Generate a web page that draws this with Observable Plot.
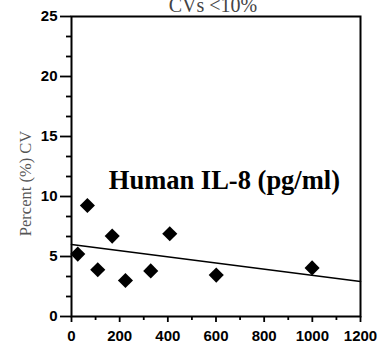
<!DOCTYPE html>
<html>
<head>
<meta charset="utf-8">
<script src="https://cdn.jsdelivr.net/npm/d3@7"></script>
<script src="https://cdn.jsdelivr.net/npm/@observablehq/plot@0.6"></script>
<style>
  html, body { margin: 0; padding: 0; background: #fff; }
  #chart svg { display: block; }
</style>
</head>
<body>
<div id="chart"></div>
<script>
// Data
const concentration = [26, 66, 109, 169, 224, 329, 408, 601, 999]; // pg/ml
const percentCV     = [5.2, 9.25, 3.9, 6.7, 3.0, 3.8, 6.9, 3.45, 4.05];
const trendX = [0, 1200];
const trendY = [6.0, 2.92];
const xMajorTicks = [0, 200, 400, 600, 800, 1000, 1200];
const xMinorTicks = [100, 300, 500, 700, 900, 1100];
const yMajorTicks = [0, 5, 10, 15, 20, 25];
const yMinorTicks = [5/3, 10/3, 20/3, 25/3, 35/3, 40/3, 50/3, 55/3, 65/3, 70/3];
const titleText = "CVs <10%";
const yLabel = "Percent (%) CV";
const annotation = { text: "Human IL-8 (pg/ml)", x: 155, y: 11.3 };

const points = concentration.map((c, i) => ({ x: c, y: percentCV[i] }));
const trend = trendX.map((x, i) => ({ x, y: trendY[i] }));

const tickFont = { fontFamily: "Liberation Sans, Arial, sans-serif", fontWeight: "bold", fontSize: 15 };

const chart = Plot.plot({
  width: 380,
  height: 343,
  marginLeft: 71,
  marginRight: 20,
  marginTop: 16,
  marginBottom: 27,
  style: { background: "#fff", overflow: "visible" },
  x: { domain: [0, 1200] },
  y: { domain: [0, 25] },
  marks: [
    Plot.frame({ stroke: "#000", strokeWidth: 2 }),
    Plot.axisX({ ticks: xMajorTicks, tickSize: 6, tickPadding: 8, strokeWidth: 1.8, label: null, tickFormat: d => String(d), ...tickFont, fill: "#000", letterSpacing: "-0.8px" }),
    Plot.axisX({ ticks: xMinorTicks, tickSize: 4, text: null, strokeWidth: 1.8, label: null }),
    Plot.axisY({ ticks: yMajorTicks, tickSize: 11, tickPadding: 3, strokeWidth: 1.8, label: null, tickFormat: d => String(d), ...tickFont, fill: "#000", letterSpacing: "-0.8px" }),
    Plot.axisY({ ticks: yMinorTicks, tickSize: 5, text: null, strokeWidth: 1.8, label: null }),
    Plot.line(trend, { x: "x", y: "y", stroke: "#000", strokeWidth: 1.6 }),
    Plot.dot(points, { x: "x", y: "y", symbol: "diamond2", r: 6.8, fill: "#000", stroke: "none" }),
    Plot.text([annotation], { x: "x", y: "y", text: "text", textAnchor: "start", fontFamily: "Liberation Serif, Times New Roman, serif", fontWeight: "bold", fontSize: 26.5, fill: "#000" }),
    Plot.text([yLabel], { text: d => d, frameAnchor: "left", textAnchor: "middle", rotate: -90, dx: -46, dy: 17, fontFamily: "Liberation Serif, Times New Roman, serif", fontSize: 16.5, fill: "#555" }),
    Plot.text([titleText], { text: d => d, frameAnchor: "top", dx: -3, dy: -18.4, fontFamily: "Liberation Serif, Times New Roman, serif", fontSize: 20, fill: "#444" })
  ]
});
document.getElementById("chart").appendChild(chart);
</script>
</body>
</html>
